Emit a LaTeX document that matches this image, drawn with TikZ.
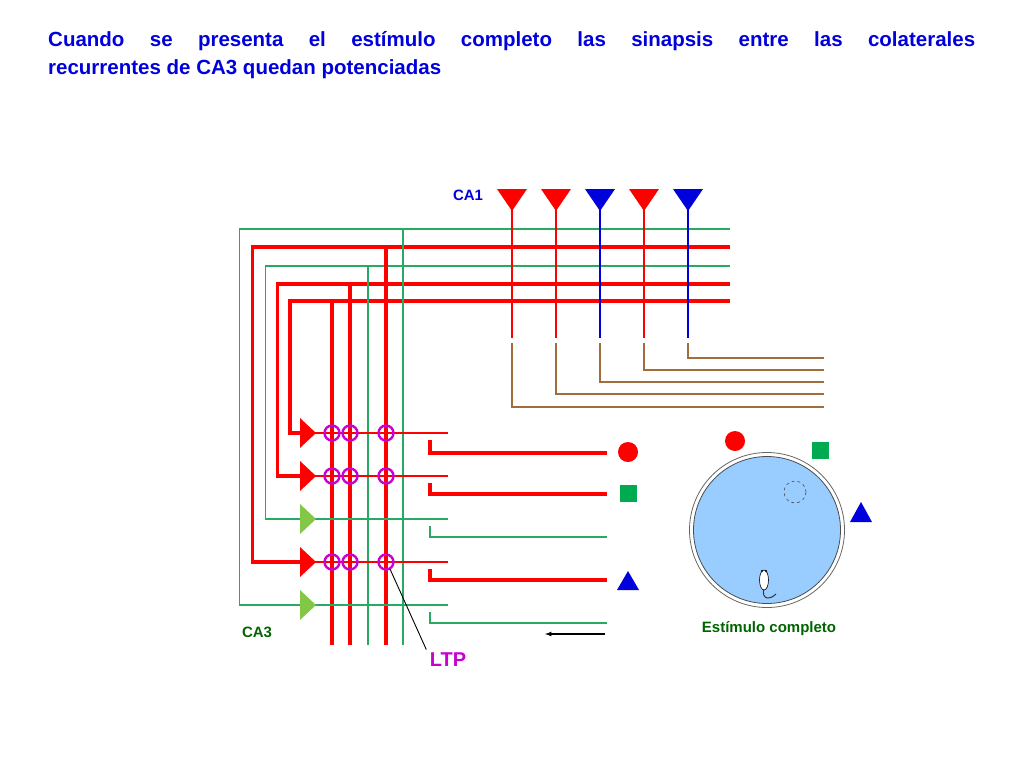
\documentclass[tikz,border=0pt]{standalone}
\usepackage{fontspec}
\setmainfont{Liberation Sans}
\begin{document}
\begin{tikzpicture}[x=1pt,y=-1pt,
  gr/.style={draw=gline,line width=1.5pt},
  rd/.style={draw=red,line width=3.5pt},
  rt/.style={draw=red,line width=1.4pt},
  br/.style={draw=brn,line width=1.5pt},
  syn/.style={draw=mag,line width=2.4pt,circle,minimum size=15pt,inner sep=0pt},
  lbl/.style={font=\bfseries}]
\definecolor{gline}{RGB}{40,170,100}
\definecolor{brn}{RGB}{160,110,60}
\definecolor{mag}{RGB}{200,0,210}
\definecolor{dgreen}{RGB}{0,100,0}
\definecolor{lgreen}{RGB}{130,200,70}
\definecolor{sqg}{RGB}{0,170,80}
\definecolor{pool}{RGB}{153,204,255}
\definecolor{tblue}{RGB}{0,0,220}
\useasboundingbox (0,0) rectangle (1024,768);
\node[anchor=north west,inner sep=0pt,text width=927pt,align=justify,font=\fontsize{20.5}{28}\selectfont\bfseries,text=tblue] (title) at (48,31)
 {Cuando se presenta el estímulo completo las sinapsis entre las colaterales\linebreak recurrentes de CA3 quedan potenciadas};
% top horizontals and loops
\draw[gr] (730,229) -- (239.5,229) -- (239.5,605) -- (303,605);
\draw[rd] (730,247) -- (252.5,247) -- (252.5,562) -- (303,562);
\draw[gr] (730,266) -- (265.7,266) -- (265.7,519) -- (303,519);
\draw[rd] (730,284) -- (277.7,284) -- (277.7,476) -- (303,476);
\draw[rd] (730,301) -- (290,301) -- (290,433) -- (303,433);
% verticals
\draw[rd] (332,301) -- (332,645);
\draw[rd] (350,284) -- (350,645);
\draw[gr] (368,266) -- (368,645);
\draw[rd] (386,247) -- (386,645);
\draw[gr] (403,229) -- (403,645);
% rows
\foreach \y/\c/\s in {433/red/rt,476/red/rt,519/lgreen/gr,562/red/rt,605/lgreen/gr}{
  \draw[\s] (315,\y) -- (448,\y);
  \fill[\c] (300,\y-15) -- (316,\y) -- (300,\y+15) -- cycle;
}
\foreach \y in {433,476,562}{
  \foreach \x in {332,350,386}{\node[syn] at (\x,\y) {};}
}
\coordinate (ltpc) at (390,569);
% output Ls
\draw[rd] (430,440) -- (430,453) -- (607,453);
\draw[rd] (430,483) -- (430,494) -- (607,494);
\draw[gr] (430,526) -- (430,537) -- (607,537);
\draw[rd] (430,569) -- (430,580) -- (607,580);
\draw[gr] (430,612) -- (430,623) -- (607,623);
\fill[red] (628,452) circle (10);
\fill[sqg] (619.5,485) rectangle (636.5,502);
\fill[tblue] (628,571) -- (639,590) -- (617,590) -- cycle;
\coordinate (arrs) at (605,634);
\coordinate (arre) at (545,634);
\draw[-latex,line width=1.2pt] (arrs) -- (arre);
% CA1
\foreach \x/\c/\yb in {512/red/407,556/red/394,600/tblue/382,644/red/370,688/tblue/358}{
  \draw[\c,line width=1.5pt] (\x,208) -- (\x,338);
  \fill[\c] (\x-15,189) -- (\x+15,189) -- (\x,211) -- cycle;
  \draw[br] (\x,343) -- (\x,\yb) -- (824,\yb);
}
\node[text=tblue,font=\fontsize{15}{17}\selectfont\bfseries] (ca1) at (468,195) {CA1};
\node[text=dgreen,font=\fontsize{15}{17}\selectfont\bfseries] (ca3) at (257,632) {CA3};
\node[text=mag,font=\fontsize{20}{22}\selectfont\bfseries] (ltp) at (448,660) {LTP};
\draw[black,line width=0.9pt] (ltpc) -- (ltp.north west);
% pool
\draw[gray!80!black,line width=0.8pt] (767,530) circle (77.5);
\draw[gray!60!black,fill=pool,line width=0.8pt] (767,530) circle (73.5);
\draw[gray!60!black,dashed,line width=0.6pt] (795,492) circle (11);
\fill[red] (735,441) circle (10);
\fill[sqg] (812,442) rectangle (829,459);
\fill[tblue] (861,502) -- (872,522) -- (850,522) -- cycle;
% mouse
\draw[black!80,line width=1pt] (764,588) .. controls (761,600) and (770,600) .. (776,594);
\draw[black,fill=white,line width=0.6pt] (764,580) ellipse (4.5 and 10);
\fill[black] (762,571) circle (1.1) (766,571) circle (1.1);
\node[text=dgreen,font=\fontsize{15}{17}\selectfont\bfseries] (est) at (769,629) {Estímulo completo};
\end{tikzpicture}
\end{document}
